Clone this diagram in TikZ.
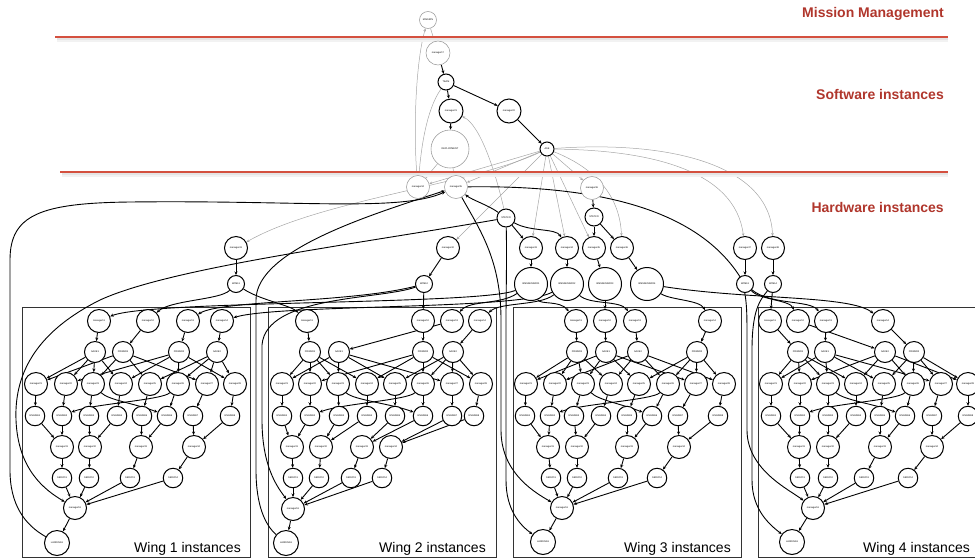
\documentclass[tikz,border=0pt]{standalone}
\usepackage{fontspec}
\setmainfont{Liberation Sans}
\usetikzlibrary{arrows.meta}
\definecolor{hdr}{HTML}{B0362C}
\definecolor{redln}{HTML}{D4503F}
\pgfdeclarelayer{bg}
\pgfsetlayers{bg,main}
\newcommand\mkrow[6]{\foreach \xx [count=\i] in {#6}{\node[#3] (#1#2\i) at (\xx,#4) {#5\i};}}
\newcommand\mkrowl[5]{\foreach \xx/\ll [count=\i] in {#5}{\node[#3] (#1#2\i) at (\xx,#4) {\ll};}}
\newcommand\wingedges[2]{%
  \foreach \i/\j in {#2} \draw[e] (#1a\i) -- (#1b\j);
  \foreach \i/\j in {1/1,1/2,1/3,1/4,4/5,4/6,4/7,4/8,2/1,2/3,2/5,2/7,3/2,3/4,3/6,3/8} \draw[e] (#1b\i) -- (#1c\j);
  \foreach \i in {1,...,8} \draw[e] (#1c\i) -- (#1d\i);
  \draw[e] (#1c6) .. controls +(-15,16) and +(30,-12) .. (#1d2);
  \draw[e] (#1c3) .. controls +(15,16) and +(-30,-12) .. (#1d6);
  \foreach \i/\j in {1/1,2/1,3/2,4/2,5/3,6/3,7/4,8/4} \draw[e] (#1d\i) -- (#1e\j);
  \foreach \i in {1,...,4} {\draw[e] (#1e\i) -- (#1f\i); \draw[e] (#1f\i) -- (#1g1);}
  \draw[e] (#1g1) -- (#1h1);
}
\begin{document}
\begin{tikzpicture}[x=1pt,y=-1pt,
  base/.style={circle,fill=white,inner sep=0pt,font=\fontsize{2.4}{2.7}\selectfont},
  hw/.style={base,draw=black,line width=1pt},
  sw/.style={base,draw=black!40,line width=0.55pt},
  na/.style={hw,minimum size=23pt},
  nb/.style={hw,minimum size=21pt},
  nd/.style={hw,minimum size=19.5pt},
  nh/.style={hw,minimum size=25pt},
  e/.style={line width=0.9pt,-{Stealth[length=3.5pt,width=3pt]}},
  g/.style={draw=black!35,line width=0.5pt,-{Stealth[length=3pt,width=2.6pt]}},
  box/.style={draw=black!80,line width=0.9pt},
  hdrtxt/.style={font=\fontsize{14}{16}\selectfont\bfseries,text=hdr,anchor=base east,inner sep=0pt},
  wtxt/.style={font=\fontsize{14}{16}\selectfont,anchor=base east,inner sep=0pt}]
\useasboundingbox (0,0) rectangle (975,558);
% headers and separators
\fill[black!10] (57,38.2) rectangle (948,40);
\fill[black!5] (57,40) rectangle (948,42);
\fill[black!10] (62,173.2) rectangle (948,175);
\fill[black!5] (62,175) rectangle (948,177);
\draw[redln,line width=1.8pt] (55,37.3) -- (948,37.3);
\draw[redln,line width=1.8pt] (60,172.3) -- (948,172.3);
\node[hdrtxt] (hm) at (944,17) {Mission Management};
\node[hdrtxt] (hs) at (944,99) {Software instances};
\node[hdrtxt] (hh) at (944,212) {Hardware instances};
% top nodes
\node[sw,minimum size=17pt] (mission) at (428,20) {MISSION};
\node[sw,minimum size=24pt] (m17) at (438,53) {manager17};
\node[hw,minimum size=16pt] (team) at (446,82) {TEAM};
\node[hw,minimum size=24pt] (ma) at (451,111) {manager21};
\node[hw,minimum size=24pt] (mb) at (509,111) {manager22};
\node[sw,minimum size=38pt] (deploy) at (450,149) {DEPLOYMENT};
\node[hw,minimum size=14pt] (ase) at (547,149) {ASE};
\node[sw,minimum size=23pt] (gm1) at (418,187) {manager34};
\node[sw,minimum size=23pt] (gm2) at (456,187) {manager35};
\node[sw,minimum size=23pt] (gm3) at (592,188) {manager36};
\node[hw,minimum size=18pt] (statco) at (506,218) {STATCO};
\node[hw,minimum size=18pt] (statco2) at (594,217) {STATCO};
\mkrow{h}{x}{na}{248}{manager4}{236,448,531,567,594,622,745,773}
\node[hw,minimum size=17pt] (wg1) at (236,284) {WING1};
\node[hw,minimum size=17pt] (wg2) at (424,284) {WING2};
\node[hw,minimum size=17pt] (wg3) at (745,284) {WING3};
\node[hw,minimum size=17pt] (wg4) at (773,284) {WING4};
\mkrow{bg}{x}{hw,minimum size=33pt}{284}{BMSSENSOR}{531,567,605,647}
% wing 1
\mkrow{w1}{a}{na}{321}{manager1}{99,148,188,222}
\mkrowl{w1}{b}{nb}{352}{95/SAKE1,123/POWER1,179/POWER2,217/SAKE2}
\mkrow{w1}{c}{na}{384}{manager2}{36,66,93,121,150,178,207,235}
\mkrow{w1}{d}{nd}{416}{ENGINE}{35,62,89,117,142,167,193,230}
\mkrow{w1}{e}{na}{447}{manager3}{62,90,141,194}
\mkrow{w1}{f}{nd}{478}{SERVO}{62,89,130,173}
\mkrow{w1}{g}{na}{508}{manager5}{75}
\mkrow{w1}{h}{nh}{543}{LANDING}{57}
% wing 2
\mkrow{w2}{a}{na}{321}{manager1}{307,423,452,480}
\mkrowl{w2}{b}{nb}{352}{310/POWER1,339/SAKE1,423/POWER2,453/SAKE2}
\mkrow{w2}{c}{na}{384}{manager2}{282,310,338,367,395,423,452,481}
\mkrow{w2}{d}{nd}{416}{ENGINE}{282,310,339,367,395,423,452,474}
\mkrow{w2}{e}{na}{447}{manager3}{292,321,362,391}
\mkrow{w2}{f}{nd}{478}{SERVO}{293,319,351,382}
\mkrow{w2}{g}{na}{509}{manager5}{293}
\mkrow{w2}{h}{nh}{543}{LANDING}{286}
% wing 3
\mkrow{w3}{a}{na}{321}{manager1}{576,605,635,710}
\mkrowl{w3}{b}{nb}{352}{577/POWER1,606/SAKE1,638/SAKE2,697/POWER2}
\mkrow{w3}{c}{na}{384}{manager2}{526,555,583,611,639,668,696,724}
\mkrow{w3}{d}{nd}{416}{ENGINE}{525,550,574,601,627,652,678,718}
\mkrow{w3}{e}{na}{447}{manager3}{548,577,627,679}
\mkrow{w3}{f}{nd}{478}{SERVO}{551,577,618,657}
\mkrow{w3}{g}{na}{508}{manager5}{562}
\mkrow{w3}{h}{nh}{542}{LANDING}{543}
% wing 4
\mkrow{w4}{a}{na}{321}{manager1}{770,798,826,883}
\mkrowl{w4}{b}{nb}{352}{798/POWER1,825/SAKE1,885/SAKE2,914/POWER2}
\mkrow{w4}{c}{na}{384}{manager2}{771,800,828,856,884,913,941,968}
\mkrow{w4}{d}{nd}{416}{ENGINE}{771,800,828,856,880,905,932,968}
\mkrow{w4}{e}{na}{447}{manager3}{799,828,880,932}
\mkrow{w4}{f}{nd}{478}{SERVO}{800,828,864,908}
\mkrow{w4}{g}{na}{508}{manager5}{813}
\mkrow{w4}{h}{nh}{542}{LANDING}{792}
\begin{pgfonlayer}{bg}
% wing boxes
\draw[box] (22,307) rectangle (250,557);
\draw[box] (268,307) rectangle (496,557);
\draw[box] (513,307) rectangle (741,557);
\draw[box] (758,307) rectangle (990,557);
% grey (software) edges
\draw[g] (mission) -- (m17);
\draw[g] (gm1) .. controls (413,130) and (416,60) .. (mission);
\draw[g] (team) .. controls (426,110) and (421,150) .. (gm1);
\draw[g] (deploy) -- (gm1);
\draw[g] (deploy) -- (gm2);
\draw[g] (ase) -- (gm1);
\draw[g] (ase) -- (gm2);
\draw[g] (ase) -- (gm3);
\draw[g] (statco) .. controls (495,170) and (480,125) .. (ma);
\draw[g] (ase) -- (hx2);
\draw[g] (ase) .. controls (470,185) and (320,200) .. (hx1);
\draw[g] (ase) -- (hx3);
\draw[g] (ase) -- (hx4);
\draw[g] (ase) -- (hx5);
\draw[g] (ase) .. controls (600,170) and (620,200) .. (hx6);
\draw[g] (ase) .. controls (650,150) and (735,170) .. (hx7);
\draw[g] (ase) .. controls (670,140) and (770,165) .. (hx8);
% black top edges
\draw[e] (m17) -- (team);
\draw[e] (team) -- (ma);
\draw[e] (team) -- (mb);
\draw[e] (ma) -- (deploy);
\draw[e] (mb) -- (ase);
\draw[e] (statco) .. controls (488,205) and (472,200) .. (gm2);
\draw[e] (gm3) -- (statco2);
\draw[e] (statco) -- (hx3);
\draw[e] (statco) .. controls (530,232) and (556,228) .. (hx4);
\draw[e] (statco2) -- (hx5);
\draw[e] (statco2) -- (hx6);
\draw[e] (hx3) -- (bgx1);
\draw[e] (hx4) -- (bgx2);
\draw[e] (hx5) -- (bgx3);
\draw[e] (hx6) -- (bgx4);
\draw[e] (hx1) -- (wg1);
\draw[e] (hx2) -- (wg2);
\draw[e] (hx7) -- (wg3);
\draw[e] (hx8) -- (wg4);
% long edges around the wings
\draw[e] (statco) .. controls (350,245) and (170,268) .. (100,300) .. controls (40,330) and (14,370) .. (16,420) .. controls (18,470) and (45,490) .. (w1g1);
\draw[e] (w1h1) .. controls (25,525) and (10,505) .. (10,470) -- (10,260) .. controls (10,215) and (40,203) .. (130,202) .. controls (300,200) and (400,212) .. (gm2);
\draw[e] (w2h1) .. controls (265,525) and (256,505) .. (256,470) -- (256,300) .. controls (256,250) and (370,215) .. (gm2);
\draw[e] (wg2) .. controls (380,300) and (266,295) .. (262,345) -- (262,420) .. controls (262,470) and (280,490) .. (w2g1);
\draw[e] (gm2) .. controls (480,230) and (501,260) .. (501,320) -- (501,430) .. controls (501,470) and (530,490) .. (w3g1);
\draw[e] (statco) .. controls (507,260) and (506,290) .. (506,320) -- (506,480) .. controls (506,510) and (520,525) .. (w3h1);
\draw[e] (gm2) .. controls (600,185) and (700,210) .. (742,280) .. controls (747,300) and (747,310) .. (747,340) -- (747,430) .. controls (747,470) and (790,490) .. (w4g1);
\draw[e] (wg4) .. controls (760,300) and (752,310) .. (752,350) -- (752,480) .. controls (752,510) and (770,525) .. (w4h1);
% edges to the first row of each wing
\draw[e] (bgx1) .. controls (480,305) and (150,300) .. (w1a1);
\draw[e] (wg1) .. controls (220,300) and (170,300) .. (w1a2);
\draw[e] (wg2) .. controls (350,303) and (220,300) .. (w1a3);
\draw[e] (bgx2) .. controls (520,310) and (280,304) .. (w1a4);
\draw[e] (wg1) .. controls (260,300) and (290,305) .. (w2a1);
\draw[e] (wg2) -- (w2a2);
\draw[e] (bgx1) .. controls (500,305) and (470,300) .. (w2a3);
\draw[e] (bgx2) .. controls (540,306) and (500,302) .. (w2a4);
\draw[e] (bgx1) .. controls (540,305) and (560,300) .. (w3a1);
\draw[e] (bgx3) -- (w3a2);
\draw[e] (bgx2) .. controls (590,305) and (620,300) .. (w3a3);
\draw[e] (bgx4) .. controls (670,300) and (700,300) .. (w3a4);
\draw[e] (wg4) -- (w4a1);
\draw[e] (wg3) .. controls (760,300) and (790,300) .. (w4a2);
\draw[e] (wg3) .. controls (770,305) and (810,300) .. (w4a3);
\draw[e] (bgx4) .. controls (750,300) and (850,295) .. (w4a4);
% inside the wings
\wingedges{w1}{1/1,2/2,3/3,4/4}
\wingedges{w2}{1/1,2/3,3/2,4/4}
\wingedges{w3}{1/1,2/2,3/3,4/4}
\wingedges{w4}{1/1,2/3,3/2,4/4}
\end{pgfonlayer}
\node[wtxt] (l1) at (241,552) {Wing 1 instances};
\node[wtxt] (l2) at (486,552) {Wing 2 instances};
\node[wtxt] (l3) at (731,552) {Wing 3 instances};
\node[wtxt] (l4) at (970,552) {Wing 4 instances};
\end{tikzpicture}
\end{document}
